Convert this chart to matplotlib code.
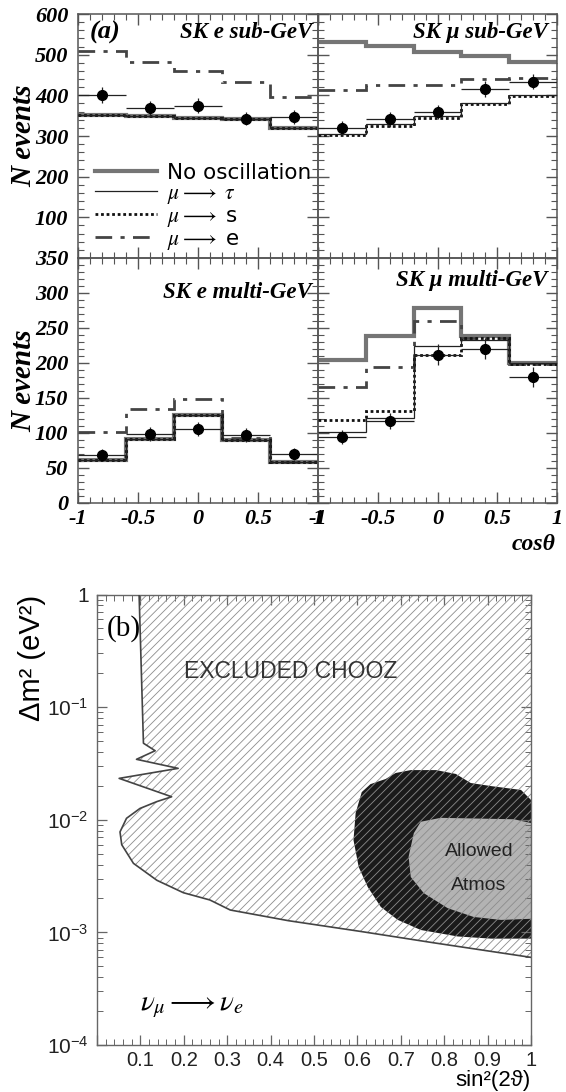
import numpy as np
import matplotlib.pyplot as plt
from matplotlib.lines import Line2D
from matplotlib.patches import Polygon
from matplotlib.font_manager import FontProperties
from matplotlib.ticker import MultipleLocator, FixedLocator, NullFormatter

plt.rcParams['hatch.linewidth'] = 0.6
plt.rcParams['mathtext.fontset'] = 'custom'
plt.rcParams['mathtext.rm'] = 'Liberation Sans'
plt.rcParams['mathtext.it'] = 'Liberation Sans:italic'

# ---- panel (a): zenith angle distributions ----
edges = [-1, -0.6, -0.2, 0.2, 0.6, 1]
centers = [-0.8, -0.4, 0.0, 0.4, 0.8]

esub_noosc = [352, 348, 345, 342, 320]
esub_mutau = [352, 348, 345, 342, 320]
esub_mus = [352, 348, 345, 342, 320]
esub_mue = [510, 481, 459, 434, 397]
esub_data = [401, 369, 375, 343, 347]
esub_err = [20, 18, 18, 17, 17]

musub_noosc = [531, 522, 506, 497, 482]
musub_mutau = [306, 329, 349, 381, 400]
musub_mus = [303, 324, 344, 378, 398]
musub_mue = [414, 425, 425, 441, 443]
musub_data = [320, 341, 359, 416, 434]
musub_err = [18, 18, 18, 19, 19]

emul_noosc = [62, 92, 126, 90, 59]
emul_mutau = [62, 92, 126, 90, 59]
emul_mus = [62, 92, 126, 90, 59]
emul_mue = [101, 134, 148, 93, 59]
emul_data = [69, 99, 106, 97, 70]
emul_err = [8, 10, 10, 10, 8]

mumul_noosc = [204, 238, 279, 238, 200]
mumul_mutau = [102, 122, 224, 233, 200]
mumul_mus = [119, 131, 211, 236, 199]
mumul_mue = [165, 194, 260, 236, 199]
mumul_data = [94, 117, 212, 220, 180]
mumul_err = [10, 11, 15, 15, 14]

# ---- panel (b): CHOOZ exclusion and atmospheric allowed regions ----
chooz_x = [0.097, 0.107, 0.134, 0.091, 0.187, 0.051, 0.172, 0.138, 0.099, 0.068,
           0.053, 0.057, 0.084, 0.138, 0.199, 0.26, 0.307, 0.441, 0.607, 0.774, 1.0]
chooz_y = [1.0, 0.0478, 0.0410, 0.0344, 0.0286, 0.0233, 0.0160, 0.0145, 0.0126, 0.0103,
           0.0078, 0.0060, 0.0041, 0.0029, 0.00225, 0.00194, 0.00158, 0.00127, 0.00102,
           0.00081, 0.0006]

atm90_x = [1.0, 0.977, 0.908, 0.861, 0.827, 0.781, 0.723, 0.688, 0.665, 0.630, 0.610,
           0.596, 0.591, 0.603, 0.624, 0.654, 0.693, 0.746, 0.831, 0.908, 1.0]
atm90_y = [0.0150, 0.0184, 0.0199, 0.0212, 0.0255, 0.0276, 0.0276, 0.0260, 0.0230, 0.0207,
           0.0176, 0.0115, 0.0066, 0.0038, 0.00252, 0.00168, 0.00129, 0.00105, 0.00092,
           0.00088, 0.00088]

atm68_x = [1.0, 0.961, 0.792, 0.746, 0.730, 0.718, 0.723, 0.753, 0.808, 0.868, 0.931, 1.0]
atm68_y = [0.00935, 0.0101, 0.0104, 0.0096, 0.0076, 0.0047, 0.0031, 0.00223, 0.00164,
           0.00137, 0.00129, 0.00132]

sin_ticks = [0.1, 0.2, 0.3, 0.4, 0.5, 0.6, 0.7, 0.8, 0.9, 1.0]
sin_labels = ['0.1', '0.2', '0.3', '0.4', '0.5', '0.6', '0.7', '0.8', '0.9', '1']
dm_ticks = [1e-4, 1e-3, 1e-2, 1e-1, 1]
dm_labels = [r'$10^{-4}$', r'$10^{-3}$', r'$10^{-2}$', r'$10^{-1}$', '1']

W, H = 566, 1092
fig = plt.figure(figsize=(W / 100, H / 100), dpi=100)

serif_bi = FontProperties(family='Liberation Serif', weight='bold', style='italic', size=16)
title_fp = FontProperties(family='Liberation Serif', weight='bold', style='italic', size=16.5)
spine_col = '#555555'


def fig_rect(x0, y0, x1, y1):
    return [x0 / W, 1 - y1 / H, (x1 - x0) / W, (y1 - y0) / H]


def style_top(ax, ymax, ymajor, yminor):
    ax.set_xlim(-1, 1)
    ax.set_ylim(0, ymax)
    ax.set_facecolor('none')
    for s in ax.spines.values():
        s.set_color(spine_col)
        s.set_linewidth(1.1)
    ax.xaxis.set_major_locator(MultipleLocator(0.5))
    ax.xaxis.set_minor_locator(MultipleLocator(0.1))
    ax.yaxis.set_major_locator(MultipleLocator(ymajor))
    ax.yaxis.set_minor_locator(MultipleLocator(yminor))
    ax.tick_params(which='both', direction='in', top=True, right=True, color=spine_col)
    ax.tick_params(which='major', length=8, width=1)
    ax.tick_params(which='minor', length=4, width=0.8)


def draw_hist(ax, noosc, mutau, mus, mue, data, err):
    ax.stairs(noosc, edges, color='#757575', lw=3.0, baseline=None, zorder=2)
    ax.stairs(mue, edges, color='#444444', lw=2.0, linestyle=(0, (6, 3, 1.5, 3)),
              baseline=None, zorder=3)
    ax.stairs(mus, edges, color='#111111', lw=2.0, linestyle=(0, (1, 1)),
              baseline=None, zorder=3)
    ax.stairs(mutau, edges, color='#222222', lw=0.9, baseline=None, zorder=3)
    ax.errorbar(centers, data, yerr=err, xerr=0.2, fmt='o', color='black', ms=7,
                elinewidth=0.9, ecolor='#222222', capsize=0, zorder=4)


ax_tl = fig.add_axes(fig_rect(78, 14, 318, 258))
ax_tr = fig.add_axes(fig_rect(318, 14, 557, 258))
ax_bl = fig.add_axes(fig_rect(78, 258, 318, 503))
ax_br = fig.add_axes(fig_rect(318, 258, 557, 503))

for ax in (ax_tl, ax_tr):
    style_top(ax, 600, 100, 20)
for ax in (ax_bl, ax_br):
    style_top(ax, 350, 50, 10)

draw_hist(ax_tl, esub_noosc, esub_mutau, esub_mus, esub_mue, esub_data, esub_err)
draw_hist(ax_tr, musub_noosc, musub_mutau, musub_mus, musub_mue, musub_data, musub_err)
draw_hist(ax_bl, emul_noosc, emul_mutau, emul_mus, emul_mue, emul_data, emul_err)
draw_hist(ax_br, mumul_noosc, mumul_mutau, mumul_mus, mumul_mue, mumul_data, mumul_err)

# tick labels
for ax in (ax_tl, ax_tr):
    ax.tick_params(labelbottom=False)
for ax in (ax_tr, ax_br):
    ax.tick_params(labelleft=False)

ax_tl.set_yticks([100, 200, 300, 400, 500, 600])
ax_tl.set_yticklabels(['100', '200', '300', '400', '500', '600'])
ax_bl.set_yticks([0, 50, 100, 150, 200, 250, 300, 350])
ax_bl.set_yticklabels(['0', '50', '100', '150', '200', '250', '300', '350'])
for ax in (ax_bl, ax_br):
    ax.set_xticks([-1, -0.5, 0, 0.5, 1])
    ax.set_xticklabels(['-1', '-0.5', '0', '0.5', '1'])
for ax in (ax_tl, ax_bl, ax_br):
    for lab in ax.get_yticklabels() + ax.get_xticklabels():
        lab.set_fontproperties(serif_bi)
for ax in (ax_tl, ax_bl):
    ax.tick_params(axis='y', pad=7)
for ax in (ax_bl, ax_br):
    ax.tick_params(axis='x', pad=4)

# panel titles
ax_tl.text(0.05, 0.925, '(a)', transform=ax_tl.transAxes, fontproperties=title_fp,
           fontsize=19, va='center', ha='left')
ax_tl.text(0.975, 0.925, 'SK e sub-GeV', transform=ax_tl.transAxes,
           fontproperties=title_fp, va='center', ha='right')
ax_tr.text(0.96, 0.925, 'SK μ sub-GeV', transform=ax_tr.transAxes,
           fontproperties=title_fp, va='center', ha='right')
ax_bl.text(0.975, 0.86, 'SK e multi-GeV', transform=ax_bl.transAxes,
           fontproperties=title_fp, va='center', ha='right')
ax_br.text(0.96, 0.91, 'SK μ multi-GeV', transform=ax_br.transAxes,
           fontproperties=title_fp, va='center', ha='right')

# y labels and cos theta
ylab_fp = FontProperties(family='Liberation Serif', weight='bold', style='italic', size=21)
fig.text(24 / W, 1 - 136 / H, 'N events', rotation=90, ha='center', va='center',
         fontproperties=ylab_fp)
fig.text(24 / W, 1 - 381 / H, 'N events', rotation=90, ha='center', va='center',
         fontproperties=ylab_fp)
fig.text(556 / W, 1 - 545 / H, 'cosθ', ha='right', va='center', fontproperties=ylab_fp,
         fontsize=17)

# legend
handles = [
    Line2D([], [], color='#757575', lw=3.0),
    Line2D([], [], color='#222222', lw=0.9),
    Line2D([], [], color='#111111', lw=2.0, linestyle=(0, (1, 1))),
    Line2D([], [], color='#444444', lw=2.0, linestyle=(0, (6, 3, 1.5, 3))),
]
labels = ['No oscillation', r'$\mu\longrightarrow\ \tau$',
          r'$\mu\longrightarrow$ s', r'$\mu\longrightarrow$ e']
leg = ax_tl.legend(handles, labels, loc='upper left', bbox_to_anchor=(0.07, 0.39),
                   frameon=False, handlelength=2.9, handletextpad=0.45,
                   labelspacing=0.0, borderpad=0, borderaxespad=0,
                   prop={'family': 'DejaVu Sans', 'size': 15.5})
for t in leg.get_texts():
    t.set_math_fontfamily('stix')

# ---- panel (b) ----
axb = fig.add_axes(fig_rect(97, 594.5, 531, 1045))
axb.set_xlim(0, 1)
axb.set_yscale('log')
axb.set_ylim(1e-4, 1)
for s in axb.spines.values():
    s.set_color('#666666')
    s.set_linewidth(1.0)

axb.fill(atm90_x, atm90_y, color='#1a1a1a', lw=0, zorder=1)
axb.fill(atm68_x, atm68_y, color='#b3b3b3', lw=0, zorder=1.5)
excl = list(zip(chooz_x, chooz_y)) + [(1.0, 1.0)]
axb.add_patch(Polygon(excl, closed=True, facecolor='none', edgecolor='#8c8c8c',
                      hatch='////', lw=0, zorder=2))
axb.plot(chooz_x, chooz_y, color='#444444', lw=1.2, zorder=3)

axb.xaxis.set_major_locator(FixedLocator([0.0] + sin_ticks))
axb.set_xticklabels([''] + sin_labels)
axb.xaxis.set_minor_locator(MultipleLocator(0.02))
axb.yaxis.set_major_locator(FixedLocator(dm_ticks))
axb.set_yticklabels(dm_labels)
minor_y = [m * 10.0 ** e for e in range(-4, 0) for m in range(2, 10)]
axb.yaxis.set_minor_locator(FixedLocator(minor_y))
axb.yaxis.set_minor_formatter(NullFormatter())
axb.tick_params(which='both', direction='in', top=True, right=True, color='#666666')
axb.tick_params(which='major', length=7, width=0.9, labelsize=15, pad=6)
axb.tick_params(axis='x', which='major', labelsize=14.5, pad=4)
axb.tick_params(which='minor', length=4, width=0.7)
for lab in axb.get_xticklabels() + axb.get_yticklabels():
    lab.set_family('Liberation Sans')
    lab.set_color('#222222')

axb.text(0.022, 0.925, '(b)', transform=axb.transAxes, fontsize=21,
         family='Liberation Serif', va='center', ha='left')
axb.text(0.2, 0.83, 'EXCLUDED CHOOZ', fontsize=16.5, family='Liberation Sans',
         color='#333333', va='center', ha='left', transform=axb.transAxes)
axb.text(0.88, 0.0052, 'Allowed', fontsize=14, family='Liberation Sans',
         color='#222222', ha='center', va='center')
axb.text(0.88, 0.0026, 'Atmos', fontsize=14, family='Liberation Sans',
         color='#222222', ha='center', va='center')
axb.text(0.1, 0.00022, r'$\nu_\mu \longrightarrow \nu_e$', fontsize=21,
         math_fontfamily='stix', ha='left', va='center')
axb.text(-0.15, 1.0, 'Δm² (eV²)', transform=axb.transAxes, rotation=90,
         fontsize=21, family=['Liberation Sans', 'DejaVu Sans'], ha='center', va='top')
axb.text(1.0, -0.078, 'sin²(2ϑ)', transform=axb.transAxes, fontsize=16,
         family=['Liberation Sans', 'DejaVu Sans'], ha='right', va='center')

fig.savefig('out.png', dpi=100)
